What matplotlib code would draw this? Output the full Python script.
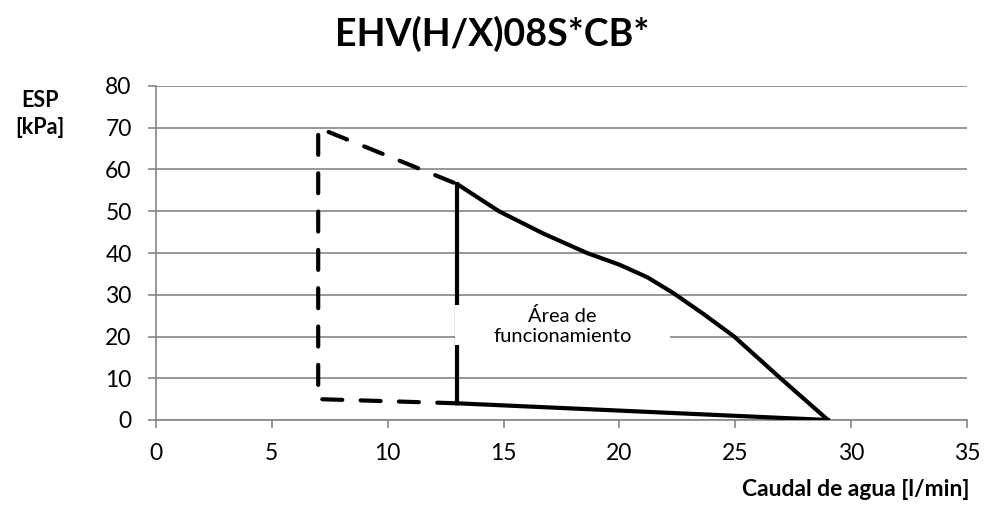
import matplotlib
matplotlib.use("Agg")
import matplotlib.pyplot as plt
from matplotlib.patches import Rectangle

plt.rcParams['font.family'] = ['Lato', 'DejaVu Sans']

title = "EHV(H/X)08S*CB*"
x_label = "Caudal de agua [l/min]"
y_label = "ESP\n[kPa]"
area_label = "Área de\nfuncionamiento"

x_ticks = [0, 5, 10, 15, 20, 25, 30, 35]
y_ticks = [0, 10, 20, 30, 40, 50, 60, 70, 80]

# solid boundary: upper curve (flow, pressure)
curve_x = [13.0, 14.8, 16.7, 18.6, 20.0, 21.2, 22.3, 23.6, 24.95, 26.95, 29.0]
curve_y = [56.5, 50.0, 44.7, 40.0, 37.2, 34.2, 30.5, 25.5, 20.0, 10.0, 0.0]
# solid boundary: lower line and left vertical
bottom_x = [13.0, 29.0]
bottom_y = [4.0, 0.0]
left_x = [13.0, 13.0]
left_y = [4.0, 56.5]
# dashed extension
dash_x = [13.0, 7.0, 7.0, 13.0]
dash_y = [4.0, 5.0, 70.0, 56.5]

fig = plt.figure(figsize=(9.84, 5.08), dpi=100)
ax = fig.add_axes([156/984, 88/508, (967-156)/984, (420-86)/508])

grid_c = '#868686'
ax.set_xlim(0, 35)
ax.set_ylim(0, 80)
ax.set_xticks(x_ticks)
ax.set_yticks(y_ticks)
ax.yaxis.grid(True, color=grid_c, lw=1.2)
ax.set_axisbelow(True)
for s in ['top', 'right']:
    ax.spines[s].set_visible(False)
for s in ['left', 'bottom']:
    ax.spines[s].set_color(grid_c)
    ax.spines[s].set_linewidth(1.2)
ax.tick_params(axis='both', colors=grid_c, labelcolor='black', length=5.5,
               width=1.2, labelsize=16.5)
ax.tick_params(axis='y', pad=12)
ax.tick_params(axis='x', pad=11)

lw = 3.0
ax.plot(curve_x, curve_y, color='black', lw=lw, solid_joinstyle='round',
        solid_capstyle='round', zorder=3)
ax.plot(bottom_x, bottom_y, color='black', lw=lw, zorder=3)
ax.plot(left_x, left_y, color='black', lw=lw, zorder=3)
ax.plot(dash_x, dash_y, color='black', lw=lw, dashes=(4.8, 4.4),
        dash_capstyle='round', zorder=3)

ax.add_patch(Rectangle((12.9, 18.0), 22.2 - 12.9, 27.5 - 18.0,
                       facecolor='white', edgecolor='none', zorder=4))
ax.text(17.55, 22.6, area_label, ha='center', va='center', fontsize=14.5,
        linespacing=1.2, zorder=5)

fig.text(0.5, 1 - 34/508, title, ha='center', va='center', fontsize=27,
         fontweight='bold')
fig.text(40/984, 1 - 114/508, y_label, ha='center', va='center', fontsize=15.5,
         fontweight='bold', linespacing=1.35)
fig.text(969/984, 1 - 490/508, x_label, ha='right', va='center', fontsize=16.5,
         fontweight='bold')

fig.savefig('out.png', dpi=100)
